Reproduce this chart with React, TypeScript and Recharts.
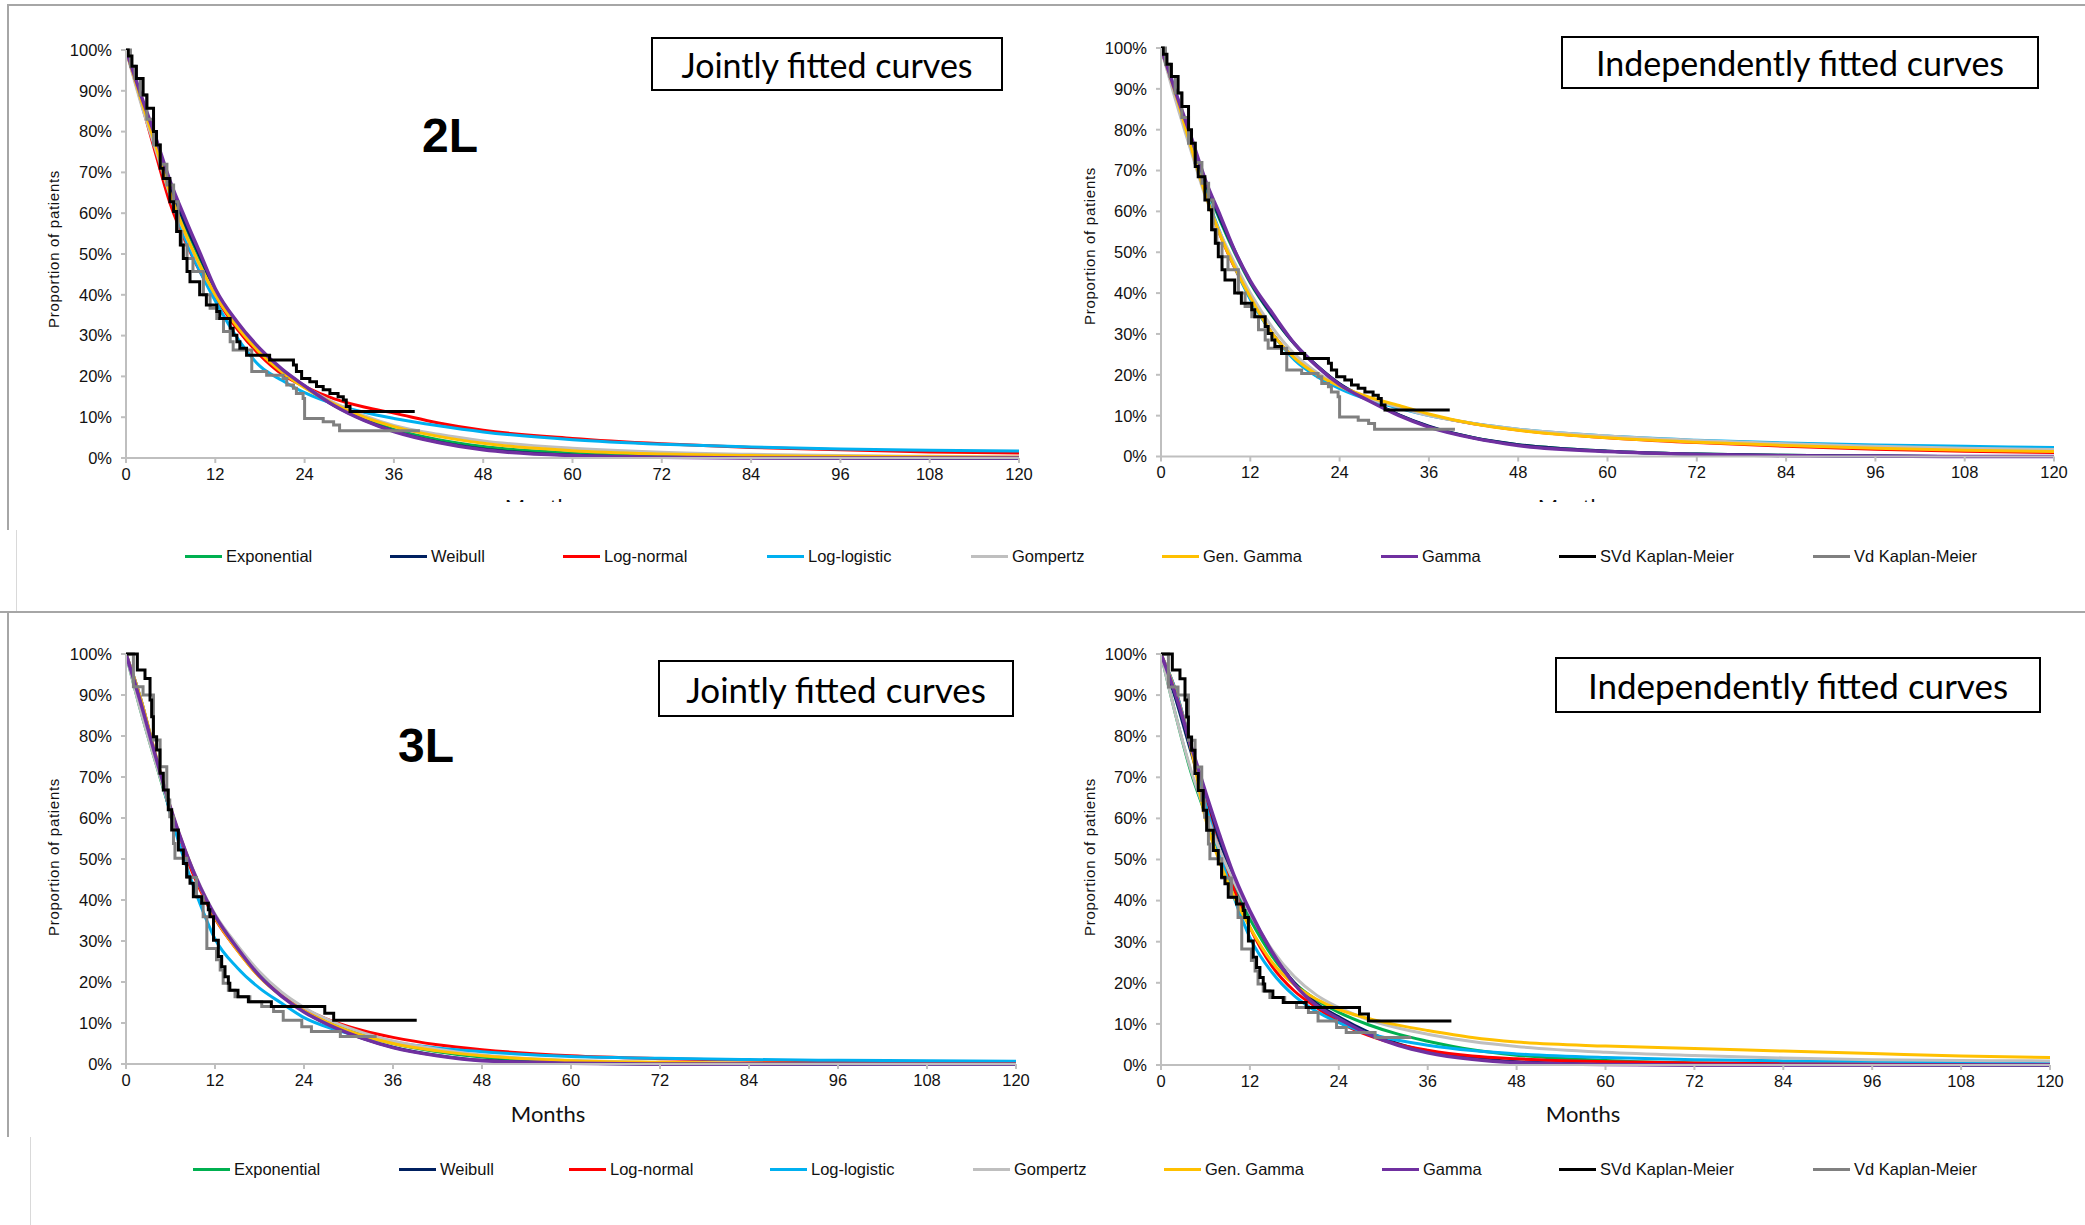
import React from "react";
import { LineChart, Line, XAxis, YAxis } from "recharts";

// time grid (months) used for every fitted curve
const MONTHS = [0, 2, 4, 6, 8, 10, 12, 15, 18, 21, 24, 28, 32, 36, 42, 48, 60, 72, 84, 96, 108, 120];
const MONTH_TICKS = [0, 12, 24, 36, 48, 60, 72, 84, 96, 108, 120];
const PCT_TICKS = [0, 0.1, 0.2, 0.3, 0.4, 0.5, 0.6, 0.7, 0.8, 0.9, 1];

const SERIES = ["Exponential", "Weibull", "Log-normal", "Log-logistic", "Gompertz", "Gen. Gamma", "Gamma"];
const KM_SERIES = ["SVd Kaplan-Meier", "Vd Kaplan-Meier"];

// 2L, jointly fitted
const expo2LJoint = [1, 0.885, 0.77, 0.655, 0.565, 0.485, 0.41, 0.328, 0.264, 0.214, 0.174, 0.13, 0.096, 0.07, 0.045, 0.028, 0.012, 0.005, 0.002, 0.001, 0, 0];
const weib2LJoint = [1, 0.885, 0.772, 0.66, 0.572, 0.492, 0.412, 0.33, 0.266, 0.216, 0.176, 0.128, 0.093, 0.066, 0.039, 0.022, 0.007, 0.002, 0.001, 0, 0, 0];
const lnorm2LJoint = [1, 0.875, 0.745, 0.62, 0.53, 0.455, 0.395, 0.315, 0.252, 0.205, 0.175, 0.145, 0.125, 0.11, 0.086, 0.068, 0.048, 0.035, 0.026, 0.02, 0.015, 0.012];
const llog2LJoint = [1, 0.885, 0.765, 0.64, 0.535, 0.455, 0.385, 0.293, 0.225, 0.19, 0.16, 0.132, 0.112, 0.097, 0.079, 0.064, 0.045, 0.034, 0.027, 0.022, 0.019, 0.017];
const gomp2LJoint = [1, 0.87, 0.755, 0.64, 0.548, 0.468, 0.4, 0.322, 0.26, 0.212, 0.175, 0.135, 0.104, 0.08, 0.058, 0.042, 0.024, 0.014, 0.009, 0.006, 0.004, 0.003];
const ggam2LJoint = [1, 0.88, 0.765, 0.645, 0.55, 0.47, 0.4, 0.32, 0.258, 0.21, 0.172, 0.132, 0.1, 0.077, 0.053, 0.036, 0.018, 0.01, 0.006, 0.004, 0.003, 0.002];
const gam2LJoint = [1, 0.89, 0.785, 0.675, 0.585, 0.5, 0.415, 0.332, 0.268, 0.217, 0.177, 0.128, 0.092, 0.065, 0.038, 0.02, 0.006, 0.002, 0, 0, 0, 0];

// 2L, independently fitted
const expo2LInd = [1, 0.88, 0.77, 0.665, 0.575, 0.495, 0.425, 0.343, 0.274, 0.221, 0.177, 0.137, 0.101, 0.073, 0.046, 0.029, 0.013, 0.006, 0.003, 0.001, 0, 0];
const weib2LInd = [1, 0.885, 0.775, 0.67, 0.58, 0.5, 0.428, 0.345, 0.275, 0.222, 0.178, 0.138, 0.102, 0.074, 0.046, 0.029, 0.013, 0.006, 0.003, 0.001, 0, 0];
const lnorm2LInd = [1, 0.885, 0.762, 0.642, 0.54, 0.458, 0.388, 0.3, 0.238, 0.198, 0.17, 0.142, 0.122, 0.102, 0.08, 0.065, 0.046, 0.034, 0.025, 0.018, 0.013, 0.01];
const llog2LInd = [1, 0.89, 0.765, 0.645, 0.545, 0.46, 0.385, 0.3, 0.235, 0.195, 0.166, 0.138, 0.118, 0.1, 0.081, 0.067, 0.05, 0.04, 0.033, 0.028, 0.025, 0.022];
const gomp2LInd = [1, 0.87, 0.75, 0.635, 0.545, 0.47, 0.4, 0.315, 0.25, 0.205, 0.172, 0.142, 0.12, 0.1, 0.081, 0.067, 0.05, 0.039, 0.031, 0.025, 0.02, 0.017];
const ggam2LInd = [1, 0.885, 0.76, 0.64, 0.54, 0.46, 0.39, 0.3, 0.24, 0.2, 0.172, 0.145, 0.125, 0.104, 0.08, 0.064, 0.046, 0.035, 0.027, 0.02, 0.015, 0.012];
const gam2LInd = [1, 0.89, 0.785, 0.675, 0.588, 0.5, 0.43, 0.35, 0.275, 0.22, 0.176, 0.136, 0.1, 0.072, 0.045, 0.027, 0.012, 0.005, 0.002, 0.001, 0, 0];

// 3L, jointly fitted
const expo3LJoint = [1, 0.86, 0.735, 0.615, 0.515, 0.43, 0.36, 0.283, 0.218, 0.17, 0.133, 0.097, 0.07, 0.05, 0.03, 0.017, 0.005, 0.002, 0.001, 0, 0, 0];
const weib3LJoint = [1, 0.875, 0.745, 0.62, 0.518, 0.43, 0.36, 0.282, 0.215, 0.166, 0.128, 0.09, 0.062, 0.041, 0.021, 0.009, 0.002, 0, 0, 0, 0, 0];
const lnorm3LJoint = [1, 0.89, 0.75, 0.615, 0.51, 0.425, 0.355, 0.278, 0.213, 0.168, 0.135, 0.103, 0.081, 0.065, 0.047, 0.035, 0.02, 0.013, 0.009, 0.007, 0.005, 0.004];
const llog3LJoint = [1, 0.89, 0.75, 0.61, 0.49, 0.39, 0.305, 0.235, 0.185, 0.148, 0.113, 0.085, 0.066, 0.053, 0.039, 0.03, 0.018, 0.014, 0.011, 0.009, 0.008, 0.007];
const gomp3LJoint = [1, 0.86, 0.735, 0.62, 0.52, 0.435, 0.365, 0.29, 0.225, 0.175, 0.138, 0.102, 0.076, 0.056, 0.036, 0.022, 0.009, 0.004, 0.002, 0.001, 0, 0];
const ggam3LJoint = [1, 0.89, 0.755, 0.625, 0.52, 0.43, 0.357, 0.278, 0.212, 0.165, 0.13, 0.095, 0.069, 0.05, 0.032, 0.02, 0.008, 0.004, 0.002, 0.001, 0.001, 0.001];
const gam3LJoint = [1, 0.88, 0.75, 0.625, 0.52, 0.432, 0.362, 0.283, 0.215, 0.165, 0.127, 0.09, 0.062, 0.04, 0.02, 0.008, 0.002, 0, 0, 0, 0, 0];

// 3L, independently fitted
const expo3LInd = [1, 0.85, 0.715, 0.61, 0.51, 0.425, 0.355, 0.265, 0.2, 0.158, 0.128, 0.098, 0.075, 0.058, 0.037, 0.024, 0.011, 0.005, 0.002, 0.001, 0, 0];
const weib3LInd = [1, 0.89, 0.765, 0.645, 0.54, 0.44, 0.37, 0.275, 0.2, 0.15, 0.117, 0.08, 0.052, 0.033, 0.017, 0.008, 0.002, 0, 0, 0, 0, 0];
const lnorm3LInd = [1, 0.91, 0.78, 0.64, 0.515, 0.42, 0.335, 0.24, 0.18, 0.14, 0.105, 0.072, 0.05, 0.036, 0.022, 0.015, 0.008, 0.005, 0.004, 0.003, 0.002, 0.002];
const llog3LInd = [1, 0.91, 0.78, 0.635, 0.51, 0.4, 0.31, 0.225, 0.168, 0.13, 0.103, 0.077, 0.06, 0.048, 0.035, 0.027, 0.018, 0.013, 0.01, 0.009, 0.008, 0.007];
const gomp3LInd = [1, 0.85, 0.72, 0.615, 0.52, 0.44, 0.37, 0.28, 0.215, 0.17, 0.14, 0.11, 0.09, 0.075, 0.057, 0.045, 0.031, 0.023, 0.017, 0.013, 0.011, 0.01];
const ggam3LInd = [1, 0.905, 0.775, 0.6, 0.49, 0.405, 0.335, 0.25, 0.195, 0.16, 0.135, 0.113, 0.097, 0.084, 0.067, 0.056, 0.046, 0.04, 0.034, 0.028, 0.022, 0.018];
const gam3LInd = [1, 0.9, 0.78, 0.665, 0.555, 0.455, 0.375, 0.275, 0.197, 0.145, 0.113, 0.075, 0.048, 0.03, 0.014, 0.006, 0.001, 0, 0, 0, 0, 0];

// Kaplan-Meier steps, 2L
const svdKm2LTimes = [0, 0.3, 0.8, 1.4, 2.3, 2.8, 3.7, 4.1, 4.6, 5.0, 5.9, 6.4, 6.8, 7.3, 7.7, 8.2, 8.6, 9.9, 10.8, 12.2, 12.6, 14.0, 14.4, 14.9, 15.3, 16.2, 19.3, 22.5, 22.9, 23.6, 24.7, 25.6, 26.5, 27.4, 28.5, 29.2, 29.6, 30.1, 38.8];
const svdKm2LSurv = [1, 0.985, 0.96, 0.93, 0.89, 0.857, 0.8, 0.767, 0.71, 0.685, 0.628, 0.604, 0.555, 0.522, 0.489, 0.457, 0.432, 0.4, 0.375, 0.359, 0.342, 0.318, 0.301, 0.285, 0.269, 0.252, 0.24, 0.228, 0.212, 0.195, 0.187, 0.175, 0.167, 0.158, 0.15, 0.142, 0.126, 0.114, 0.114];
const vdKm2LTimes = [0, 0.6, 1.2, 1.9, 2.8, 3.7, 4.6, 5.5, 6.4, 7.0, 7.5, 8.2, 9.0, 10.4, 11.3, 12.2, 13.1, 14.0, 14.4, 16.9, 18.9, 21.1, 21.6, 22.5, 22.9, 23.8, 24.0, 26.5, 27.9, 28.7, 39.5];
const vdKm2LSurv = [1, 0.96, 0.93, 0.89, 0.83, 0.767, 0.72, 0.669, 0.628, 0.555, 0.522, 0.489, 0.457, 0.4, 0.367, 0.342, 0.31, 0.285, 0.265, 0.212, 0.203, 0.195, 0.179, 0.171, 0.158, 0.146, 0.097, 0.089, 0.081, 0.067, 0.067];

// Kaplan-Meier steps, 3L
const svdKm3LTimes = [0, 1.53, 2.56, 3.24, 3.46, 3.69, 4.13, 4.58, 5.03, 5.7, 6.16, 7.06, 7.73, 8.18, 8.63, 9.08, 10.2, 11.1, 11.3, 11.8, 12.45, 12.9, 13.35, 13.8, 14.0, 15.1, 16.5, 19.6, 26.8, 28.0, 39.2];
const svdKm3LSurv = [1, 0.961, 0.94, 0.888, 0.847, 0.798, 0.766, 0.709, 0.668, 0.62, 0.571, 0.522, 0.489, 0.457, 0.441, 0.408, 0.392, 0.376, 0.359, 0.302, 0.262, 0.237, 0.213, 0.197, 0.18, 0.164, 0.152, 0.14, 0.124, 0.107, 0.107];
const vdKm3LTimes = [0, 1.0, 2.3, 3.7, 4.6, 5.5, 5.9, 6.4, 6.6, 8.2, 9.5, 10.4, 10.9, 12.2, 12.7, 13.1, 13.8, 14.7, 16.7, 18.3, 19.9, 21.2, 23.7, 25.0, 28.9, 33.8];
const vdKm3LSurv = [1, 0.92, 0.9, 0.79, 0.725, 0.644, 0.603, 0.538, 0.502, 0.455, 0.408, 0.359, 0.282, 0.254, 0.229, 0.197, 0.18, 0.164, 0.152, 0.14, 0.128, 0.107, 0.091, 0.079, 0.067, 0.067];

const COLORS: Record<string, string> = {
  Exponential: "#00B050",
  Weibull: "#002060",
  "Log-normal": "#FF0000",
  "Log-logistic": "#00B0F0",
  Gompertz: "#BFBFBF",
  "Gen. Gamma": "#FFC000",
  Gamma: "#7030A0",
  "SVd Kaplan-Meier": "#000000",
  "Vd Kaplan-Meier": "#808080",
};

const ARIAL = "'Liberation Sans', Arial, sans-serif";
const AXIS_GREY = "#BFBFBF";

type Box = { x0: number; x1: number; y0: number; y1: number };

const toRows = (xs: number[], ys: number[]) => xs.map((x, i) => ({ month: x, value: ys[i] }));

// km: [SVd, Vd] in KM_SERIES order
function Panel({ box, curves, km }: { box: Box; curves: number[][]; km: [number[], number[]][] }) {
  const w = box.x1 - box.x0 + 120;
  const h = box.y1 - box.y0 + 50;
  const tick = { fill: "#111", fontSize: 16.5, fontFamily: ARIAL };
  return (
    <div style={{ position: "absolute", left: box.x0 - 100, top: box.y0 - 10 }}>
      <LineChart width={w} height={h} margin={{ top: 10, right: 20, bottom: 0, left: 0 }}>
        <XAxis
          type="number"
          dataKey="month"
          domain={[0, 120]}
          ticks={MONTH_TICKS}
          interval={0}
          height={40}
          tickSize={5}
          tickMargin={5}
          axisLine={{ stroke: AXIS_GREY, strokeWidth: 2 }}
          tickLine={{ stroke: AXIS_GREY, strokeWidth: 2 }}
          tick={tick}
          allowDataOverflow
        />
        <YAxis
          type="number"
          domain={[0, 1]}
          ticks={PCT_TICKS}
          interval={0}
          width={100}
          tickSize={5}
          tickMargin={9}
          axisLine={{ stroke: AXIS_GREY, strokeWidth: 2 }}
          tickLine={{ stroke: AXIS_GREY, strokeWidth: 2 }}
          tick={tick}
          tickFormatter={(v: number) => `${Math.round(v * 100)}%`}
        />
        {SERIES.map((name, i) => (
          <Line
            key={name}
            name={name}
            data={toRows(MONTHS, curves[i])}
            dataKey="value"
            type="monotone"
            stroke={COLORS[name]}
            strokeWidth={name === "Gamma" ? 3.5 : 3}
            dot={false}
            activeDot={false}
            isAnimationActive={false}
          />
        ))}
        {/* Vd drawn first, SVd on top */}
        {[1, 0].map((k) => (
          <Line
            key={KM_SERIES[k]}
            name={KM_SERIES[k]}
            data={toRows(km[k][0], km[k][1])}
            dataKey="value"
            type="stepAfter"
            stroke={COLORS[KM_SERIES[k]]}
            strokeWidth={3}
            dot={false}
            activeDot={false}
            isAnimationActive={false}
          />
        ))}
      </LineChart>
    </div>
  );
}

const LEGEND_TOP = { y: 556, xs: [185, 390, 563, 767, 971, 1162, 1381, 1559, 1813] };
const LEGEND_BOTTOM = { y: 1169, xs: [193, 399, 569, 770, 973, 1164, 1382, 1559, 1813] };

function Legend({ y, xs }: { y: number; xs: number[] }) {
  const names = [...SERIES, ...KM_SERIES];
  return (
    <>
      {names.map((n, i) => (
        <div
          key={n}
          style={{ position: "absolute", left: xs[i], top: y - 11, height: 22, display: "flex", alignItems: "center", whiteSpace: "nowrap" }}
        >
          <span style={{ display: "inline-block", width: 37, height: 3, background: COLORS[n] }} />
          <span style={{ marginLeft: 4, fontFamily: ARIAL, fontSize: 16.5, color: "#111" }}>{n}</span>
        </div>
      ))}
    </>
  );
}

function TitleBox({ text, left, top, width, height, fontSize }: { text: string; left: number; top: number; width: number; height: number; fontSize: number }) {
  return (
    <div
      style={{
        position: "absolute",
        left,
        top,
        width,
        height,
        boxSizing: "border-box",
        border: "2px solid #000",
        background: "#fff",
        display: "flex",
        alignItems: "center",
        justifyContent: "center",
        fontFamily: "Lato, 'Open Sans', sans-serif",
        fontSize,
        color: "#000",
        whiteSpace: "nowrap",
      }}
    >
      {text}
    </div>
  );
}

function YTitle({ cx, cy }: { cx: number; cy: number }) {
  return (
    <div
      style={{
        position: "absolute",
        left: cx,
        top: cy,
        transform: "translate(-50%, -50%) rotate(-90deg)",
        fontFamily: ARIAL,
        fontSize: 15,
        letterSpacing: 0.7,
        whiteSpace: "nowrap",
        color: "#111",
      }}
    >
      Proportion of patients
    </div>
  );
}

function MonthsLabel({ cx, top, clip }: { cx: number; top: number; clip?: number }) {
  const inner = (
    <div style={{ textAlign: "center", fontFamily: "Lato, sans-serif", fontSize: 22, lineHeight: "22px", color: "#111" }}>Months</div>
  );
  if (clip === undefined) {
    return <div style={{ position: "absolute", left: cx - 50, top, width: 100 }}>{inner}</div>;
  }
  // top panels: the legend strip hides all but the tops of the letters
  return <div style={{ position: "absolute", left: cx - 50, top, width: 100, height: clip, overflow: "hidden" }}>{inner}</div>;
}

const line = (s: React.CSSProperties) => <div style={{ position: "absolute", background: "#A6A6A6", ...s }} />;

export default function App() {
  return (
    <div style={{ position: "absolute", left: 0, top: 0, width: 2085, height: 1225, background: "#fff", overflow: "hidden" }}>
      {/* frame lines */}
      {line({ left: 8, top: 4, width: 2077, height: 2 })}
      {line({ left: 7, top: 4, width: 2, height: 526 })}
      {line({ left: 16, top: 530, width: 1, height: 82, background: "#D9D9D9" })}
      {line({ left: 0, top: 611, width: 2085, height: 2 })}
      {line({ left: 7, top: 612, width: 2, height: 525 })}
      {line({ left: 30, top: 1137, width: 1, height: 88, background: "#D9D9D9" })}

      <MonthsLabel cx={542} top={496} clip={6} />
      <MonthsLabel cx={1575} top={496} clip={6} />
      <MonthsLabel cx={548} top={1103} />
      <MonthsLabel cx={1583} top={1103} />

      <Panel
        box={{ x0: 126, x1: 1019, y0: 50, y1: 458 }}
        curves={[expo2LJoint, weib2LJoint, lnorm2LJoint, llog2LJoint, gomp2LJoint, ggam2LJoint, gam2LJoint]}
        km={[[svdKm2LTimes, svdKm2LSurv], [vdKm2LTimes, vdKm2LSurv]]}
      />
      <Panel
        box={{ x0: 1161, x1: 2054, y0: 47.5, y1: 456 }}
        curves={[expo2LInd, weib2LInd, lnorm2LInd, llog2LInd, gomp2LInd, ggam2LInd, gam2LInd]}
        km={[[svdKm2LTimes, svdKm2LSurv], [vdKm2LTimes, vdKm2LSurv]]}
      />
      <Panel
        box={{ x0: 126, x1: 1016, y0: 654, y1: 1064 }}
        curves={[expo3LJoint, weib3LJoint, lnorm3LJoint, llog3LJoint, gomp3LJoint, ggam3LJoint, gam3LJoint]}
        km={[[svdKm3LTimes, svdKm3LSurv], [vdKm3LTimes, vdKm3LSurv]]}
      />
      <Panel
        box={{ x0: 1160.5, x1: 2049.5, y0: 654, y1: 1065 }}
        curves={[expo3LInd, weib3LInd, lnorm3LInd, llog3LInd, gomp3LInd, ggam3LInd, gam3LInd]}
        km={[[svdKm3LTimes, svdKm3LSurv], [vdKm3LTimes, vdKm3LSurv]]}
      />

      <YTitle cx={53} cy={249} />
      <YTitle cx={1089} cy={246} />
      <YTitle cx={53} cy={857} />
      <YTitle cx={1089} cy={857} />

      <TitleBox text="Jointly fitted curves" left={651} top={37} width={352} height={54} fontSize={34} />
      <TitleBox text="Independently fitted curves" left={1561} top={36} width={478} height={53} fontSize={34} />
      <TitleBox text="Jointly fitted curves" left={658} top={660} width={356} height={57} fontSize={35} />
      <TitleBox text="Independently fitted curves" left={1555} top={657} width={486} height={56} fontSize={35} />

      <div style={{ position: "absolute", left: 422, top: 112, fontFamily: ARIAL, fontWeight: 700, fontSize: 48, lineHeight: "48px" }}>2L</div>
      <div style={{ position: "absolute", left: 398, top: 722, fontFamily: ARIAL, fontWeight: 700, fontSize: 48, lineHeight: "48px" }}>3L</div>

      <Legend y={LEGEND_TOP.y} xs={LEGEND_TOP.xs} />
      <Legend y={LEGEND_BOTTOM.y} xs={LEGEND_BOTTOM.xs} />
    </div>
  );
}
